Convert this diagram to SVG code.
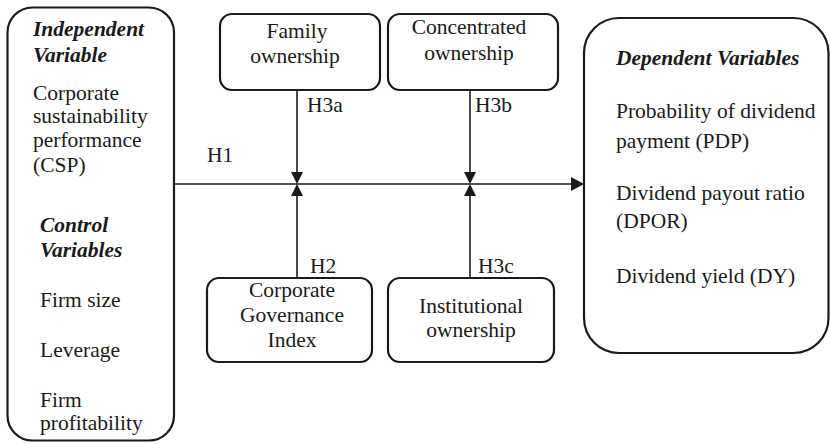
<svg xmlns="http://www.w3.org/2000/svg" width="830" height="444" viewBox="0 0 830 444">
<defs>
<style>
.box{fill:#fff;stroke:#1a1a1a;stroke-width:2.2}
.b{font-weight:bold;font-style:italic}
.m{text-anchor:middle}
.ln{stroke:#1a1a1a;stroke-width:1.6;fill:none}
.ah{fill:#1a1a1a}
text{font-family:'Liberation Serif',serif;font-size:21.5px;fill:#1a1a1a}
</style>
</defs>
<rect width="830" height="444" fill="#fff"/>
<g id="connectors">
<line class="ln" x1="174" y1="184" x2="574" y2="184"/>
<polygon class="ah" points="571,177 584,184 571,191"/>
<line class="ln" x1="297" y1="90" x2="297" y2="174"/>
<polygon class="ah" points="291,172 303,172 297,184"/>
<line class="ln" x1="297" y1="278" x2="297" y2="194"/>
<polygon class="ah" points="291,196 303,196 297,184"/>
<line class="ln" x1="470" y1="90" x2="470" y2="174"/>
<polygon class="ah" points="464,172 476,172 470,184"/>
<line class="ln" x1="470" y1="278" x2="470" y2="194"/>
<polygon class="ah" points="464,196 476,196 470,184"/>
<text x="207" y="162">H1</text>
<text x="307" y="112">H3a</text>
<text x="475" y="112">H3b</text>
<text x="310" y="273">H2</text>
<text x="478" y="273">H3c</text>
</g>
<g id="independent">
<rect class="box" x="7.5" y="7.5" width="166.5" height="433" rx="25"/>
<text class="b" x="33" y="36">Independent</text>
<text class="b" x="33" y="62">Variable</text>
<text x="33" y="100">Corporate</text>
<text x="33" y="123">sustainability</text>
<text x="33" y="147">performance</text>
<text x="33" y="172">(CSP)</text>
<text class="b" x="40" y="232">Control</text>
<text class="b" x="40" y="257">Variables</text>
<text x="40" y="307">Firm size</text>
<text x="40" y="357">Leverage</text>
<text x="40" y="407">Firm</text>
<text x="40" y="430">profitability</text>
</g>
<g id="family">
<rect class="box" x="220" y="14" width="160" height="76" rx="12"/>
<text class="m" x="297" y="38">Family</text>
<text class="m" x="295" y="63">ownership</text>
</g>
<g id="concentrated">
<rect class="box" x="388" y="14" width="170" height="76" rx="12"/>
<text class="m" x="469" y="34">Concentrated</text>
<text class="m" x="469" y="60">ownership</text>
</g>
<g id="governance">
<rect class="box" x="207" y="278" width="165" height="84" rx="12"/>
<text class="m" x="292" y="297">Corporate</text>
<text class="m" x="292" y="322">Governance</text>
<text class="m" x="292" y="347">Index</text>
</g>
<g id="institutional">
<rect class="box" x="388" y="278" width="166" height="84" rx="12"/>
<text class="m" x="471" y="313">Institutional</text>
<text class="m" x="471" y="337">ownership</text>
</g>
<g id="dependent">
<rect class="box" x="584" y="18" width="244.5" height="335" rx="35"/>
<text class="b" x="616" y="65">Dependent Variables</text>
<text x="616" y="118">Probability of dividend</text>
<text x="616" y="148">payment (PDP)</text>
<text x="616" y="200">Dividend payout ratio</text>
<text x="616" y="228">(DPOR)</text>
<text x="616" y="283">Dividend yield (DY)</text>
</g>
</svg>
